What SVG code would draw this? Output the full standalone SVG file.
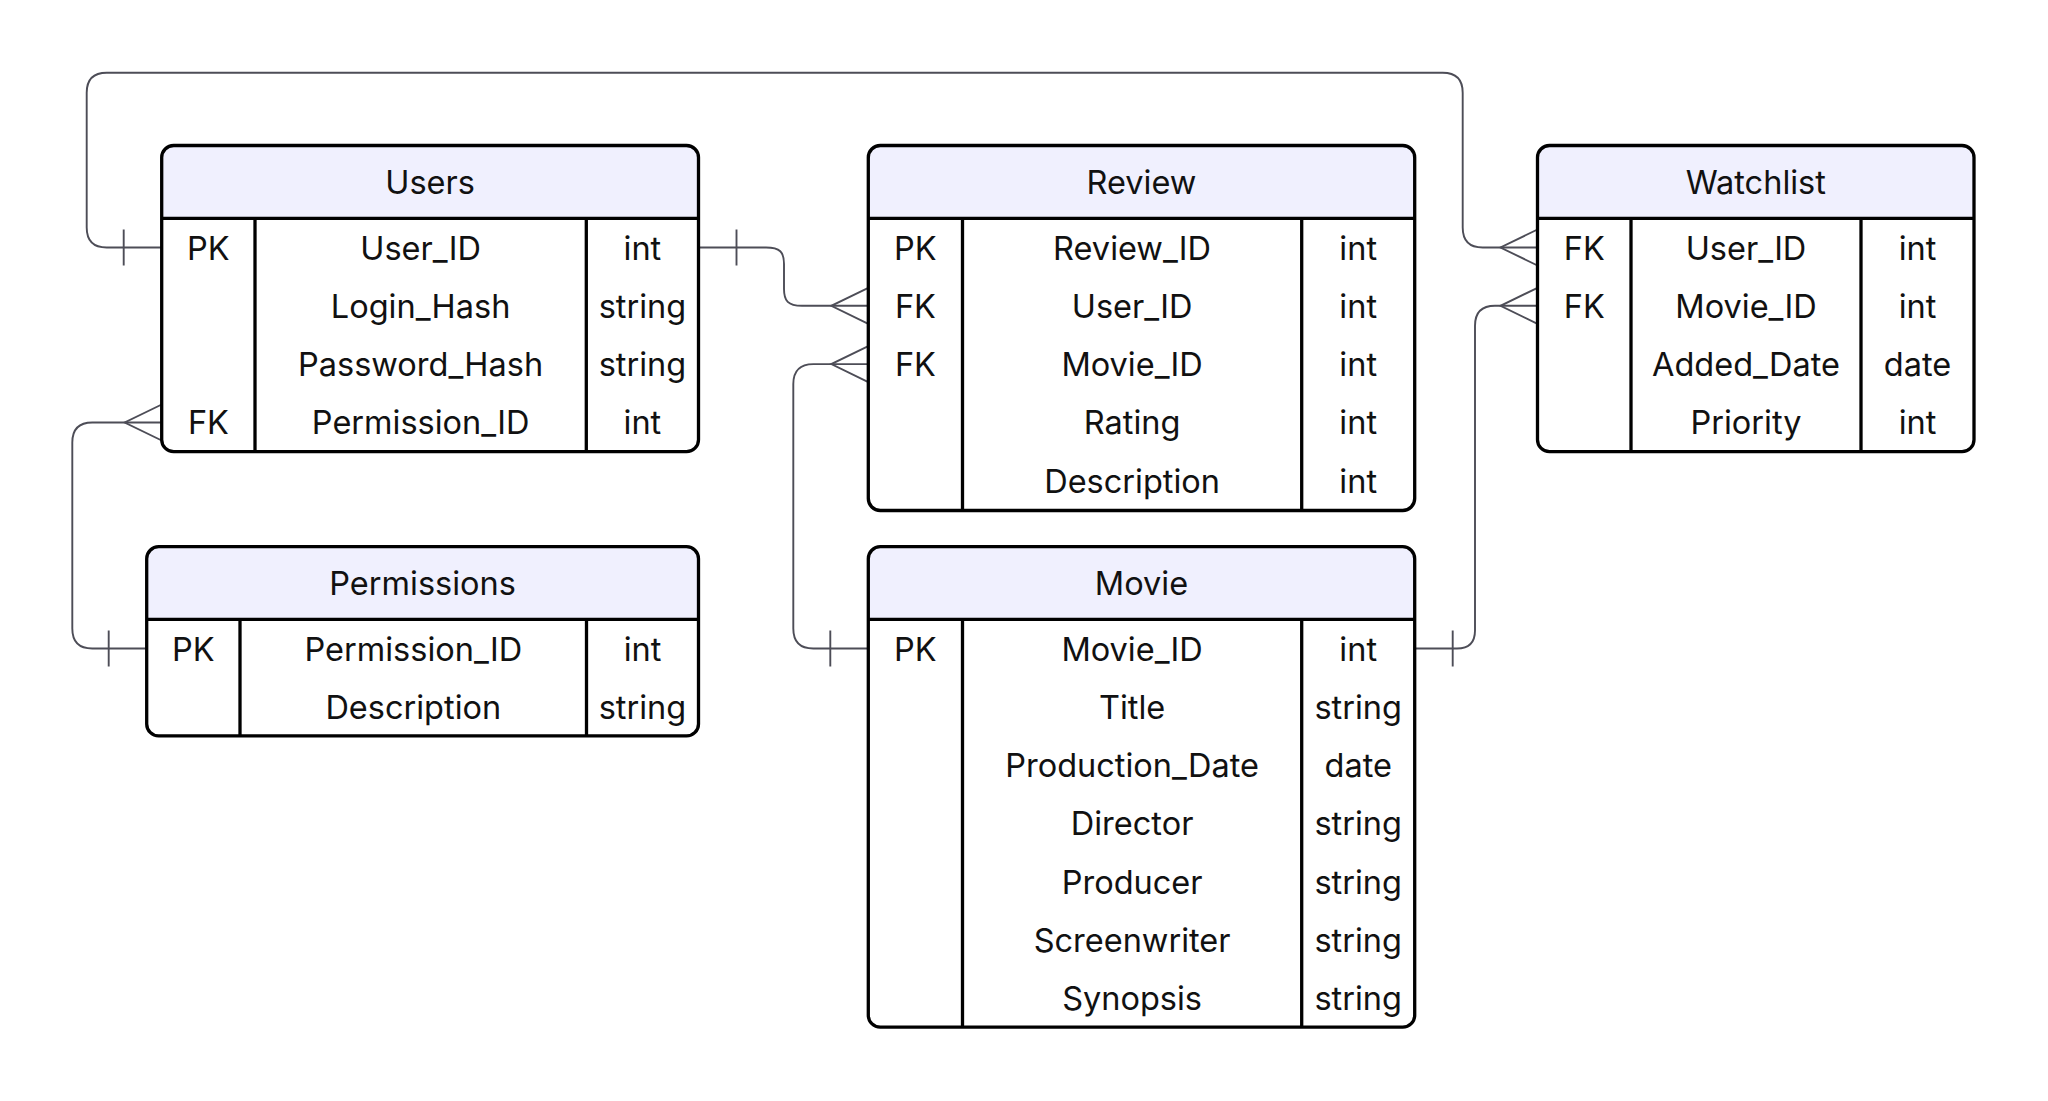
<svg xmlns="http://www.w3.org/2000/svg" width="2048" height="1101" viewBox="0 0 2048 1101">
<style>
.bg{fill:#ffffff;stroke:none}
.hd{fill:#F0F0FE;stroke:none}
.ol{fill:none;stroke:#000;stroke-width:3.3}
.dv{stroke:#000;stroke-width:3.3}
.t{font-family:Inter,"Liberation Sans",sans-serif;font-size:32.5px;fill:#111;text-anchor:middle}
.cn{fill:none;stroke:#4d4d57;stroke-width:1.9}
.mk{fill:none;stroke:#4d4d57;stroke-width:1.9}
</style>
<defs>
<marker id="one" markerUnits="userSpaceOnUse" orient="auto-start-reverse" viewBox="-44 -22 48 44" markerWidth="48" markerHeight="44" refX="0" refY="0">
<path class="mk" d="M-38,-18 V18"/>
</marker>
<marker id="many" markerUnits="userSpaceOnUse" orient="auto" viewBox="-44 -22 48 44" markerWidth="48" markerHeight="44" refX="0" refY="0">
<path class="mk" d="M0,-18 L-37,0 L0,18"/>
</marker>
</defs>
<rect width="2048" height="1101" fill="#ffffff"/>
<g id="connectors">
<path class="cn" marker-start="url(#one)" marker-end="url(#many)" d="M161.7,247.5 H106.7 Q86.7,247.5 86.7,227.5 V92.7 Q86.7,72.7 106.7,72.7 H1442.7 Q1462.7,72.7 1462.7,92.7 V227.5 Q1462.7,247.5 1482.7,247.5 H1537.5"/>
<path class="cn" marker-start="url(#one)" marker-end="url(#many)" d="M698.5,247.5 H766 C780,247.5 784,252 784,264 V289 C784,301 788,305.8 802,305.8 H868.3"/>
<path class="cn" marker-start="url(#one)" marker-end="url(#many)" d="M868.3,648.5 H813.3 Q793.3,648.5 793.3,628.5 V384.1 Q793.3,364.1 813.3,364.1 H868.3"/>
<path class="cn" marker-start="url(#one)" marker-end="url(#many)" d="M1414.7,648.5 H1457 Q1475,648.5 1475,630.5 V325.8 Q1475,305.8 1495,305.8 H1537.5"/>
<path class="cn" marker-start="url(#one)" marker-end="url(#many)" d="M146.7,648.5 H92.3 Q72.3,648.5 72.3,628.5 V442.5 Q72.3,422.5 92.3,422.5 H161.7"/>
</g>
<g id="entity-Users">
<rect class="bg" x="161.7" y="145.5" width="536.8" height="306.2" rx="12"/>
<path class="hd" d="M161.7,218.3 V157.5 A12,12 0 0 1 173.7,145.5 H686.5 A12,12 0 0 1 698.5,157.5 V218.3 Z"/>
<line class="dv" x1="161.7" y1="218.3" x2="698.5" y2="218.3"/>
<line class="dv" x1="255" y1="218.3" x2="255" y2="451.7"/>
<line class="dv" x1="586.3" y1="218.3" x2="586.3" y2="451.7"/>
<rect class="ol" x="161.7" y="145.5" width="536.8" height="306.2" rx="12"/>
<text class="t" x="430.1" y="194.2">Users</text>
<text class="t" x="208.4" y="259.5">PK</text>
<text class="t" x="420.6" y="259.5">User_ID</text>
<text class="t" x="642.4" y="259.5">int</text>
<text class="t" x="420.6" y="317.8">Login_Hash</text>
<text class="t" x="642.4" y="317.8">string</text>
<text class="t" x="420.6" y="376.1">Password_Hash</text>
<text class="t" x="642.4" y="376.1">string</text>
<text class="t" x="208.4" y="434.4">FK</text>
<text class="t" x="420.6" y="434.4">Permission_ID</text>
<text class="t" x="642.4" y="434.4">int</text>
</g>
<g id="entity-Permissions">
<rect class="bg" x="146.7" y="546.7" width="551.8" height="189.2" rx="12"/>
<path class="hd" d="M146.7,619.3 V558.7 A12,12 0 0 1 158.7,546.7 H686.5 A12,12 0 0 1 698.5,558.7 V619.3 Z"/>
<line class="dv" x1="146.7" y1="619.3" x2="698.5" y2="619.3"/>
<line class="dv" x1="240" y1="619.3" x2="240" y2="735.9"/>
<line class="dv" x1="586.5" y1="619.3" x2="586.5" y2="735.9"/>
<rect class="ol" x="146.7" y="546.7" width="551.8" height="189.2" rx="12"/>
<text class="t" x="422.6" y="595.3">Permissions</text>
<text class="t" x="193.4" y="660.5">PK</text>
<text class="t" x="413.3" y="660.5">Permission_ID</text>
<text class="t" x="642.5" y="660.5">int</text>
<text class="t" x="413.3" y="718.8">Description</text>
<text class="t" x="642.5" y="718.8">string</text>
</g>
<g id="entity-Review">
<rect class="bg" x="868.3" y="145.5" width="546.4" height="365" rx="12"/>
<path class="hd" d="M868.3,218.3 V157.5 A12,12 0 0 1 880.3,145.5 H1402.7 A12,12 0 0 1 1414.7,157.5 V218.3 Z"/>
<line class="dv" x1="868.3" y1="218.3" x2="1414.7" y2="218.3"/>
<line class="dv" x1="962.5" y1="218.3" x2="962.5" y2="510.5"/>
<line class="dv" x1="1301.7" y1="218.3" x2="1301.7" y2="510.5"/>
<rect class="ol" x="868.3" y="145.5" width="546.4" height="365" rx="12"/>
<text class="t" x="1141.5" y="194.2">Review</text>
<text class="t" x="915.4" y="259.5">PK</text>
<text class="t" x="1132.1" y="259.5">Review_ID</text>
<text class="t" x="1358.2" y="259.5">int</text>
<text class="t" x="915.4" y="317.8">FK</text>
<text class="t" x="1132.1" y="317.8">User_ID</text>
<text class="t" x="1358.2" y="317.8">int</text>
<text class="t" x="915.4" y="376.1">FK</text>
<text class="t" x="1132.1" y="376.1">Movie_ID</text>
<text class="t" x="1358.2" y="376.1">int</text>
<text class="t" x="1132.1" y="434.4">Rating</text>
<text class="t" x="1358.2" y="434.4">int</text>
<text class="t" x="1132.1" y="492.7">Description</text>
<text class="t" x="1358.2" y="492.7">int</text>
</g>
<g id="entity-Movie">
<rect class="bg" x="868.3" y="546.7" width="546.4" height="480.5" rx="12"/>
<path class="hd" d="M868.3,619.3 V558.7 A12,12 0 0 1 880.3,546.7 H1402.7 A12,12 0 0 1 1414.7,558.7 V619.3 Z"/>
<line class="dv" x1="868.3" y1="619.3" x2="1414.7" y2="619.3"/>
<line class="dv" x1="962.5" y1="619.3" x2="962.5" y2="1027.2"/>
<line class="dv" x1="1301.7" y1="619.3" x2="1301.7" y2="1027.2"/>
<rect class="ol" x="868.3" y="546.7" width="546.4" height="480.5" rx="12"/>
<text class="t" x="1141.5" y="595.3">Movie</text>
<text class="t" x="915.4" y="660.5">PK</text>
<text class="t" x="1132.1" y="660.5">Movie_ID</text>
<text class="t" x="1358.2" y="660.5">int</text>
<text class="t" x="1132.1" y="718.8">Title</text>
<text class="t" x="1358.2" y="718.8">string</text>
<text class="t" x="1132.1" y="777.1">Production_Date</text>
<text class="t" x="1358.2" y="777.1">date</text>
<text class="t" x="1132.1" y="835.4">Director</text>
<text class="t" x="1358.2" y="835.4">string</text>
<text class="t" x="1132.1" y="893.7">Producer</text>
<text class="t" x="1358.2" y="893.7">string</text>
<text class="t" x="1132.1" y="952">Screenwriter</text>
<text class="t" x="1358.2" y="952">string</text>
<text class="t" x="1132.1" y="1010.3">Synopsis</text>
<text class="t" x="1358.2" y="1010.3">string</text>
</g>
<g id="entity-Watchlist">
<rect class="bg" x="1537.5" y="145.5" width="436.5" height="306.2" rx="12"/>
<path class="hd" d="M1537.5,218.3 V157.5 A12,12 0 0 1 1549.5,145.5 H1962 A12,12 0 0 1 1974,157.5 V218.3 Z"/>
<line class="dv" x1="1537.5" y1="218.3" x2="1974" y2="218.3"/>
<line class="dv" x1="1631" y1="218.3" x2="1631" y2="451.7"/>
<line class="dv" x1="1861" y1="218.3" x2="1861" y2="451.7"/>
<rect class="ol" x="1537.5" y="145.5" width="436.5" height="306.2" rx="12"/>
<text class="t" x="1755.8" y="194.2">Watchlist</text>
<text class="t" x="1584.3" y="259.5">FK</text>
<text class="t" x="1746" y="259.5">User_ID</text>
<text class="t" x="1917.5" y="259.5">int</text>
<text class="t" x="1584.3" y="317.8">FK</text>
<text class="t" x="1746" y="317.8">Movie_ID</text>
<text class="t" x="1917.5" y="317.8">int</text>
<text class="t" x="1746" y="376.1">Added_Date</text>
<text class="t" x="1917.5" y="376.1">date</text>
<text class="t" x="1746" y="434.4">Priority</text>
<text class="t" x="1917.5" y="434.4">int</text>
</g>
</svg>
